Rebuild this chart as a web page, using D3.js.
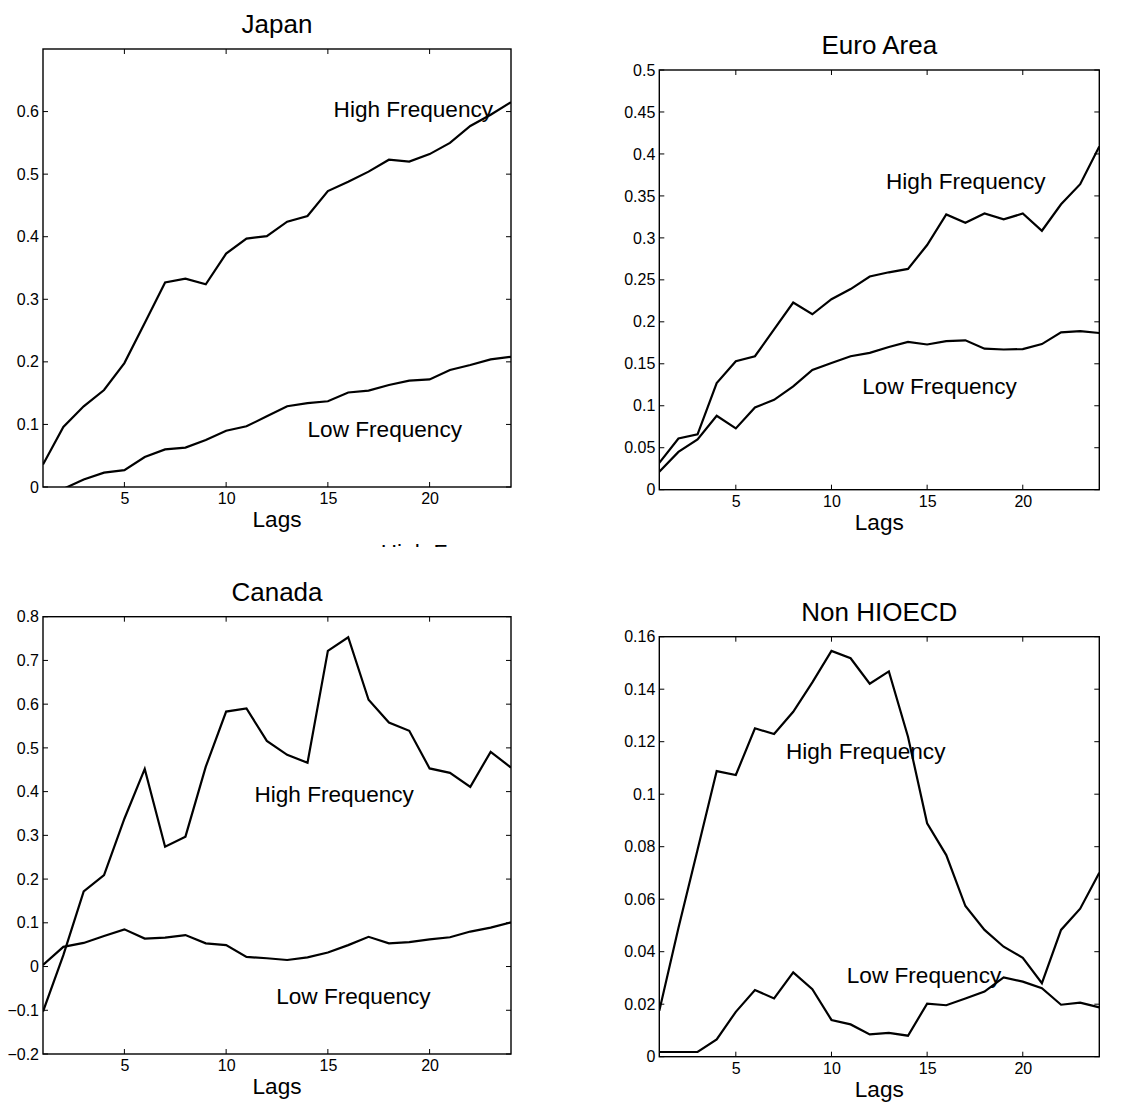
<!DOCTYPE html>
<html>
<head>
<meta charset="utf-8">
<script src="https://cdn.jsdelivr.net/npm/d3@7"></script>
<style>
  body { margin: 0; background: #fff; }
  svg { display: block; font-family: "Liberation Sans", Arial, Helvetica, sans-serif; }
</style>
</head>
<body>
<svg width="1143" height="1115"></svg>
<script>
// lags 1..24 on every panel
var lags = d3.range(1, 25);
var xTicks = [5, 10, 15, 20];

var japanHigh = [0.036, 0.096, 0.129, 0.155, 0.198, 0.262, 0.327, 0.333, 0.324, 0.373, 0.397, 0.401,
                 0.424, 0.433, 0.473, 0.488, 0.504, 0.523, 0.520, 0.532, 0.550, 0.577, 0.595, 0.615];
var japanLow = [-0.02, -0.003, 0.012, 0.023, 0.027, 0.048, 0.060, 0.063, 0.075, 0.090, 0.097, 0.113,
                0.129, 0.134, 0.137, 0.151, 0.154, 0.163, 0.170, 0.172, 0.187, 0.195, 0.204, 0.208];

var euroHigh = [0.032, 0.061, 0.066, 0.127, 0.153, 0.159, 0.191, 0.223, 0.209, 0.227, 0.239, 0.254,
                0.259, 0.263, 0.2915, 0.328, 0.318, 0.329, 0.322, 0.329, 0.3085, 0.340, 0.364, 0.409];
var euroLow = [0.0215, 0.045, 0.060, 0.088, 0.073, 0.098, 0.107, 0.123, 0.1426, 0.151, 0.159, 0.163,
               0.170, 0.176, 0.173, 0.177, 0.178, 0.168, 0.167, 0.1675, 0.1735, 0.1875, 0.189, 0.1867];

var canadaHigh = [-0.103, 0.026, 0.172, 0.209, 0.338, 0.452, 0.274, 0.297, 0.457, 0.583, 0.590, 0.516,
                  0.484, 0.466, 0.722, 0.753, 0.610, 0.558, 0.539, 0.453, 0.443, 0.411, 0.491, 0.455];
var canadaLow = [0.0035, 0.045, 0.054, 0.070, 0.085, 0.064, 0.066, 0.072, 0.053, 0.049, 0.022, 0.019,
                 0.015, 0.021, 0.032, 0.049, 0.068, 0.053, 0.056, 0.062, 0.067, 0.080, 0.089, 0.101];

var nonHigh = [0.0175, 0.049, 0.0788, 0.1088, 0.1073, 0.1251, 0.1229, 0.1314, 0.1426, 0.1546, 0.1518, 0.1421,
               0.1468, 0.1219, 0.0889, 0.0768, 0.0574, 0.0483, 0.0419, 0.0377, 0.0280, 0.0483, 0.0564, 0.0701];
var nonLow = [0.0018, 0.0018, 0.0018, 0.0066, 0.0171, 0.0254, 0.0222, 0.0321, 0.0257, 0.0140, 0.0123, 0.0085,
              0.0091, 0.0080, 0.0202, 0.0196, 0.0222, 0.0248, 0.0302, 0.0286, 0.0261, 0.0198, 0.0206, 0.0188];

var japanTicks = [0, 0.1, 0.2, 0.3, 0.4, 0.5, 0.6];
var euroTicks = [0, 0.05, 0.1, 0.15, 0.2, 0.25, 0.3, 0.35, 0.4, 0.45, 0.5];
var canadaTicks = [-0.2, -0.1, 0, 0.1, 0.2, 0.3, 0.4, 0.5, 0.6, 0.7, 0.8];
var nonTicks = [0, 0.02, 0.04, 0.06, 0.08, 0.1, 0.12, 0.14, 0.16];

// text labels, in data units (lag, value)
var japanLabels = [["High Frequency", 15.28, 0.591], ["Low Frequency", 14.0, 0.080]];
var euroLabels = [["High Frequency", 12.85, 0.358], ["Low Frequency", 11.61, 0.114]];
var canadaLabels = [["High Frequency", 11.39, 0.376], ["Low Frequency", 12.46, -0.086]];
var nonLabels = [["High Frequency", 7.62, 0.1133], ["Low Frequency", 10.80, 0.028]];

var svg = d3.select("svg");

var fmt = function(d) {
  if (d === 0) return "0";
  return (d < 0 ? "\u2212" : "") + String(+Math.abs(d).toFixed(3));
};

function drawPanel(p) {
  var x = d3.scaleLinear().domain([1, 24]).range([p.left, p.right]);
  var y = d3.scaleLinear().domain(p.ydomain).range([p.bottom, p.top]);
  var g = svg.append("g");
  var tickLen = 5;

  g.append("clipPath").attr("id", "clip-" + p.id)
    .append("rect")
      .attr("x", p.left).attr("y", p.top)
      .attr("width", p.right - p.left).attr("height", p.bottom - p.top);

  // ticks: left/right for y, bottom/top for x (pointing inward)
  g.append("g").attr("transform", "translate(" + p.left + ",0)")
    .call(d3.axisLeft(y).tickValues(p.yticks).tickSize(0).tickPadding(4).tickFormat(fmt))
    .call(function(a) { a.select(".domain").remove(); a.selectAll("text").attr("font-size", 16).attr("fill", "#000").attr("font-family", null); });
  g.append("g").attr("transform", "translate(0," + p.bottom + ")")
    .call(d3.axisBottom(x).tickValues(xTicks).tickSize(0).tickPadding(6).tickFormat(d3.format("d")))
    .call(function(a) { a.select(".domain").remove(); a.selectAll("text").attr("font-size", 16).attr("fill", "#000").attr("font-family", null); });

  var tk = g.append("g").attr("stroke", "#000").attr("stroke-width", 1);
  p.yticks.forEach(function(v) {
    tk.append("line").attr("x1", p.left).attr("x2", p.left + tickLen).attr("y1", y(v)).attr("y2", y(v));
    tk.append("line").attr("x1", p.right).attr("x2", p.right - tickLen).attr("y1", y(v)).attr("y2", y(v));
  });
  xTicks.forEach(function(v) {
    tk.append("line").attr("y1", p.bottom).attr("y2", p.bottom - tickLen).attr("x1", x(v)).attr("x2", x(v));
    tk.append("line").attr("y1", p.top).attr("y2", p.top + tickLen).attr("x1", x(v)).attr("x2", x(v));
  });

  var line = d3.line().x(function(d, i) { return x(lags[i]); }).y(function(d) { return y(d); });
  [p.high, p.low].forEach(function(s) {
    g.append("path").datum(s)
      .attr("clip-path", "url(#clip-" + p.id + ")")
      .attr("d", line)
      .attr("fill", "none").attr("stroke", "#000").attr("stroke-width", 2.2)
      .attr("stroke-linejoin", "miter");
  });

  g.append("rect")
    .attr("x", p.left).attr("y", p.top)
    .attr("width", p.right - p.left).attr("height", p.bottom - p.top)
    .attr("fill", "none").attr("stroke", "#000").attr("stroke-width", 1.4);

  p.labels.forEach(function(l) {
    g.append("text").attr("x", x(l[1])).attr("y", y(l[2]))
      .attr("font-size", 22.6).text(l[0]);
  });

  g.append("text").attr("x", (p.left + p.right) / 2).attr("y", p.top - 16)
    .attr("text-anchor", "middle").attr("font-size", 26).text(p.title);
  g.append("text").attr("x", (p.left + p.right) / 2).attr("y", p.bottom + 40)
    .attr("text-anchor", "middle").attr("font-size", 22.6).text("Lags");
  return {x: x, y: y};
}

var jp = drawPanel({id: "jp", title: "Japan", left: 43, right: 511, top: 49, bottom: 487,
  ydomain: [0, 0.7], yticks: japanTicks, high: japanHigh, low: japanLow, labels: japanLabels});
drawPanel({id: "eu", title: "Euro Area", left: 659.3, right: 1099.3, top: 70, bottom: 489.7,
  ydomain: [0, 0.5], yticks: euroTicks, high: euroHigh, low: euroLow, labels: euroLabels});
drawPanel({id: "ca", title: "Canada", left: 43, right: 511, top: 616.7, bottom: 1054,
  ydomain: [-0.2, 0.8], yticks: canadaTicks, high: canadaHigh, low: canadaLow, labels: canadaLabels});
drawPanel({id: "no", title: "Non HIOECD", left: 659.3, right: 1099.3, top: 636.7, bottom: 1056.7,
  ydomain: [0, 0.16], yticks: nonTicks, high: nonHigh, low: nonLow, labels: nonLabels});

// stray, mostly hidden label below the Japan panel
svg.append("clipPath").attr("id", "clip-stray")
  .append("rect").attr("x", 370).attr("y", 540).attr("width", 120).attr("height", 7);
svg.append("text").attr("clip-path", "url(#clip-stray)")
  .attr("x", jp.x(17.6)).attr("y", jp.y(-0.117))
  .attr("font-size", 22.6).text("High Frequency");
</script>
</body>
</html>
